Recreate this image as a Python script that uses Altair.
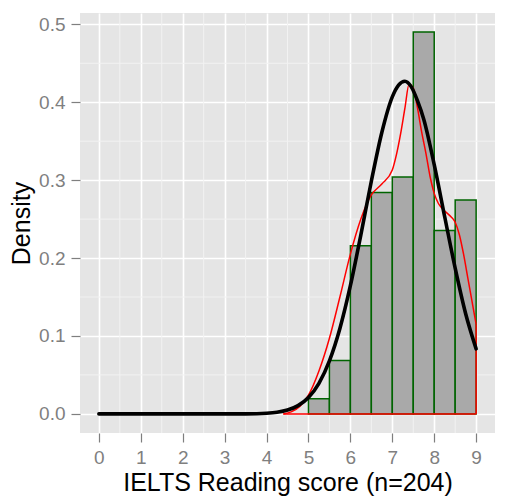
import altair as alt
import pandas as pd

# Histogram (density per 0.5-wide bin)
bin_start = [5.0, 5.5, 6.0, 6.5, 7.0, 7.5, 8.0, 8.5]
bin_end = [5.5, 6.0, 6.5, 7.0, 7.5, 8.0, 8.5, 9.0]
bin_density = [0.0196, 0.0686, 0.2157, 0.2843, 0.3039, 0.4902, 0.2353, 0.2745]

# Kernel density curve (red)
kde_x = [4.4, 4.6, 4.8, 5.0, 5.25, 5.5, 5.75, 6.0, 6.25, 6.5, 6.75, 7.0, 7.1, 7.2,
         7.3, 7.4, 7.5, 7.6, 7.7, 7.8, 7.9, 8.0, 8.1, 8.2, 8.3, 8.4, 8.5, 8.6, 8.7,
         8.8, 8.9, 9.0]
kde_y = [0.000, 0.003, 0.010, 0.024, 0.055, 0.097, 0.150, 0.205, 0.250, 0.281, 0.295,
         0.313, 0.333, 0.360, 0.392, 0.423, 0.418, 0.393, 0.362, 0.335, 0.305, 0.283,
         0.270, 0.263, 0.258, 0.253, 0.246, 0.230, 0.205, 0.175, 0.145, 0.115]

# Fitted normal curve (black)
norm_x = [0, 0.5, 1, 1.5, 2, 2.5, 3, 3.5, 4, 4.25, 4.5, 4.75, 5, 5.25, 5.5, 5.75, 6,
          6.25, 6.5, 6.75, 7, 7.15, 7.3, 7.45, 7.6, 7.75, 8, 8.25, 8.5, 8.75, 9]
norm_y = [0, 0, 0, 0, 0, 0, 0.00001, 0.0001, 0.0009, 0.0021, 0.0049, 0.0106, 0.0211,
          0.0393, 0.0681, 0.1097, 0.1645, 0.2298, 0.2986, 0.3612, 0.4069, 0.4220,
          0.4270, 0.4200, 0.4020, 0.3782, 0.3199, 0.2530, 0.1870, 0.1285, 0.0835]

# Axis breaks
x_major = [0, 1, 2, 3, 4, 5, 6, 7, 8, 9]
x_minor = [0.5, 1.5, 2.5, 3.5, 4.5, 5.5, 6.5, 7.5, 8.5]
y_major = [0.0, 0.1, 0.2, 0.3, 0.4, 0.5]
y_minor = [0.05, 0.15, 0.25, 0.35, 0.45]

x_dom = [-0.45, 9.45]
y_dom = [-0.0245, 0.5145]

hist_df = pd.DataFrame({"start": bin_start, "end": bin_end, "density": bin_density})
kde_df = pd.DataFrame({"x": kde_x, "y": kde_y})
norm_df = pd.DataFrame({"x": norm_x, "y": norm_y})
kde_base_df = pd.DataFrame({"x": [kde_x[0]], "x2": [kde_x[-1]], "y": [0.0]})
kde_edge_df = pd.DataFrame({"x": [kde_x[-1]], "y": [0.0], "y2": [kde_y[-1]]})
xminor_df = pd.DataFrame({"v": x_minor})
yminor_df = pd.DataFrame({"v": y_minor})

xscale = alt.Scale(domain=x_dom, nice=False, zero=False)
yscale = alt.Scale(domain=y_dom, nice=False, zero=False)

GREY = "#7F7F7F"
FONT = "Liberation Sans"

x_axis = alt.Axis(
    values=x_major, format="d", title="IELTS Reading score (n=204)",
    grid=True, gridColor="white", gridWidth=1.6, domain=False,
    tickSize=9, tickColor=GREY, tickWidth=1.2,
    labelFontSize=19, labelColor=GREY, labelFont=FONT, labelPadding=6,
    titleFontSize=25, titleFont=FONT, titleFontWeight="normal", titleColor="black",
    titleY=57, titleBaseline="alphabetic",
)
y_axis = alt.Axis(
    values=y_major, format=".1f", title="Density",
    grid=True, gridColor="white", gridWidth=1.6, domain=False,
    tickSize=9, tickColor=GREY, tickWidth=1.2,
    labelFontSize=19, labelColor=GREY, labelFont=FONT, labelPadding=6,
    titleFontSize=25, titleFont=FONT, titleFontWeight="normal", titleColor="black",
    titleX=-51, titleBaseline="alphabetic",
)

minor_x = alt.Chart(xminor_df).mark_rule(color="#F2F2F2", strokeWidth=1).encode(
    x=alt.X("v:Q", scale=xscale, axis=x_axis)
)
minor_y = alt.Chart(yminor_df).mark_rule(color="#F2F2F2", strokeWidth=1).encode(
    y=alt.Y("v:Q", scale=yscale, axis=y_axis)
)

bars = alt.Chart(hist_df).mark_bar(fill="#A9A9A9", stroke="#006400", strokeWidth=1.5).encode(
    x=alt.X("start:Q", scale=xscale, axis=x_axis),
    x2="end:Q",
    y=alt.Y("density:Q", scale=yscale, axis=y_axis),
    y2=alt.datum(0),
)

kde_line = alt.Chart(kde_df).mark_line(color="red", strokeWidth=1.5, interpolate="monotone").encode(
    x=alt.X("x:Q", scale=xscale, axis=x_axis),
    y=alt.Y("y:Q", scale=yscale, axis=y_axis),
)
kde_base = alt.Chart(kde_base_df).mark_rule(color="red", strokeWidth=1.5).encode(
    x=alt.X("x:Q", scale=xscale, axis=x_axis), x2="x2:Q",
    y=alt.Y("y:Q", scale=yscale, axis=y_axis),
)
kde_edge = alt.Chart(kde_edge_df).mark_rule(color="red", strokeWidth=1.5).encode(
    x=alt.X("x:Q", scale=xscale, axis=x_axis),
    y=alt.Y("y:Q", scale=yscale, axis=y_axis), y2="y2:Q",
)

norm_line = alt.Chart(norm_df).mark_line(color="black", strokeWidth=3.6, interpolate="monotone",
                                         strokeCap="round").encode(
    x=alt.X("x:Q", scale=xscale, axis=x_axis),
    y=alt.Y("y:Q", scale=yscale, axis=y_axis),
)

chart = alt.layer(
    minor_x, minor_y, bars, kde_base, kde_edge, kde_line, norm_line
).properties(
    width=415, height=420,
    autosize=alt.AutoSizeParams(type="none"),
    padding={"left": 72, "top": 5, "right": 4, "bottom": 64},
    background="white",
).configure_view(
    fill="#E5E5E5", stroke=None
)

chart.save("out.html", embed_options={"renderer": "svg", "actions": False})
